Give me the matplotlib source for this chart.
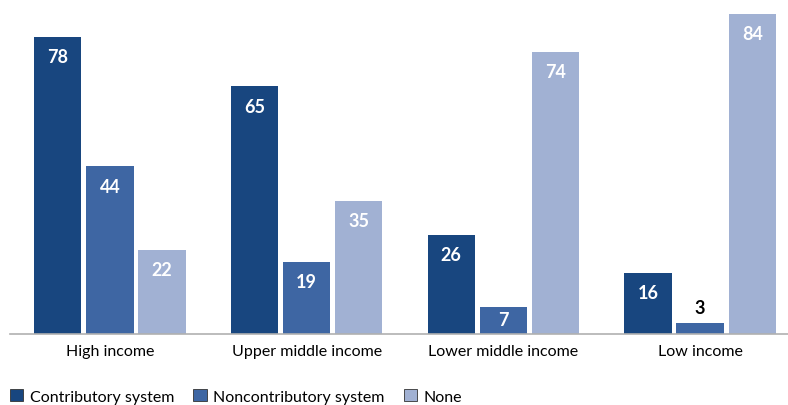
import matplotlib.pyplot as plt
import numpy as np

# Data
groups = ["High income", "Upper middle income", "Lower middle income", "Low income"]
series = ["Contributory system", "Noncontributory system", "None"]
contributory = [78, 65, 26, 16]
noncontributory = [44, 19, 7, 3]
none = [22, 35, 74, 84]
colors = ["#18467f", "#3e66a3", "#a1b1d3"]

plt.rcParams['font.family'] = ['Lato', 'DejaVu Sans']

fig = plt.figure(figsize=(7.88, 4.06), dpi=100)
ax = fig.add_axes([10 / 788, 71 / 406, 778 / 788, 320 / 406])

x = np.arange(len(groups))
width = 0.24
step = 0.265
for i, (vals, name) in enumerate(zip([contributory, noncontributory, none], series)):
    pos = x + (i - 1) * step
    bars = ax.bar(pos, vals, width, color=colors[i], label=name)
    for b, v in zip(bars, vals):
        cx = b.get_x() + b.get_width() / 2
        if v < 6:
            ax.text(cx, v + 1.8, str(v), ha='center', va='bottom',
                    color='black', fontsize=13, fontweight='bold')
        else:
            ax.text(cx, v - min(5.2, v * 0.45), str(v), ha='center', va='center',
                    color='white', fontsize=13, fontweight='bold')

ax.set_xlim(-0.508, 3.447)
ax.set_ylim(0, 84)
ax.set_yticks([])
ax.set_xticks(x)
ax.set_xticklabels(groups, fontsize=11.5)
ax.tick_params(axis='x', length=0, pad=7)
for s in ['top', 'right', 'left']:
    ax.spines[s].set_visible(False)
ax.spines['bottom'].set_color('#b0b0b0')
ax.spines['bottom'].set_linewidth(1.2)

leg = fig.legend(loc='lower left', bbox_to_anchor=(0.0, -0.02), ncol=3, frameon=False,
                 fontsize=11.5, handlelength=0.85, handleheight=0.85, handletextpad=0.4,
                 columnspacing=1.2, borderaxespad=0.2)
for h in leg.legend_handles:
    h.set_edgecolor('#333333')
    h.set_linewidth(0.6)

fig.savefig("out.png", dpi=100)
